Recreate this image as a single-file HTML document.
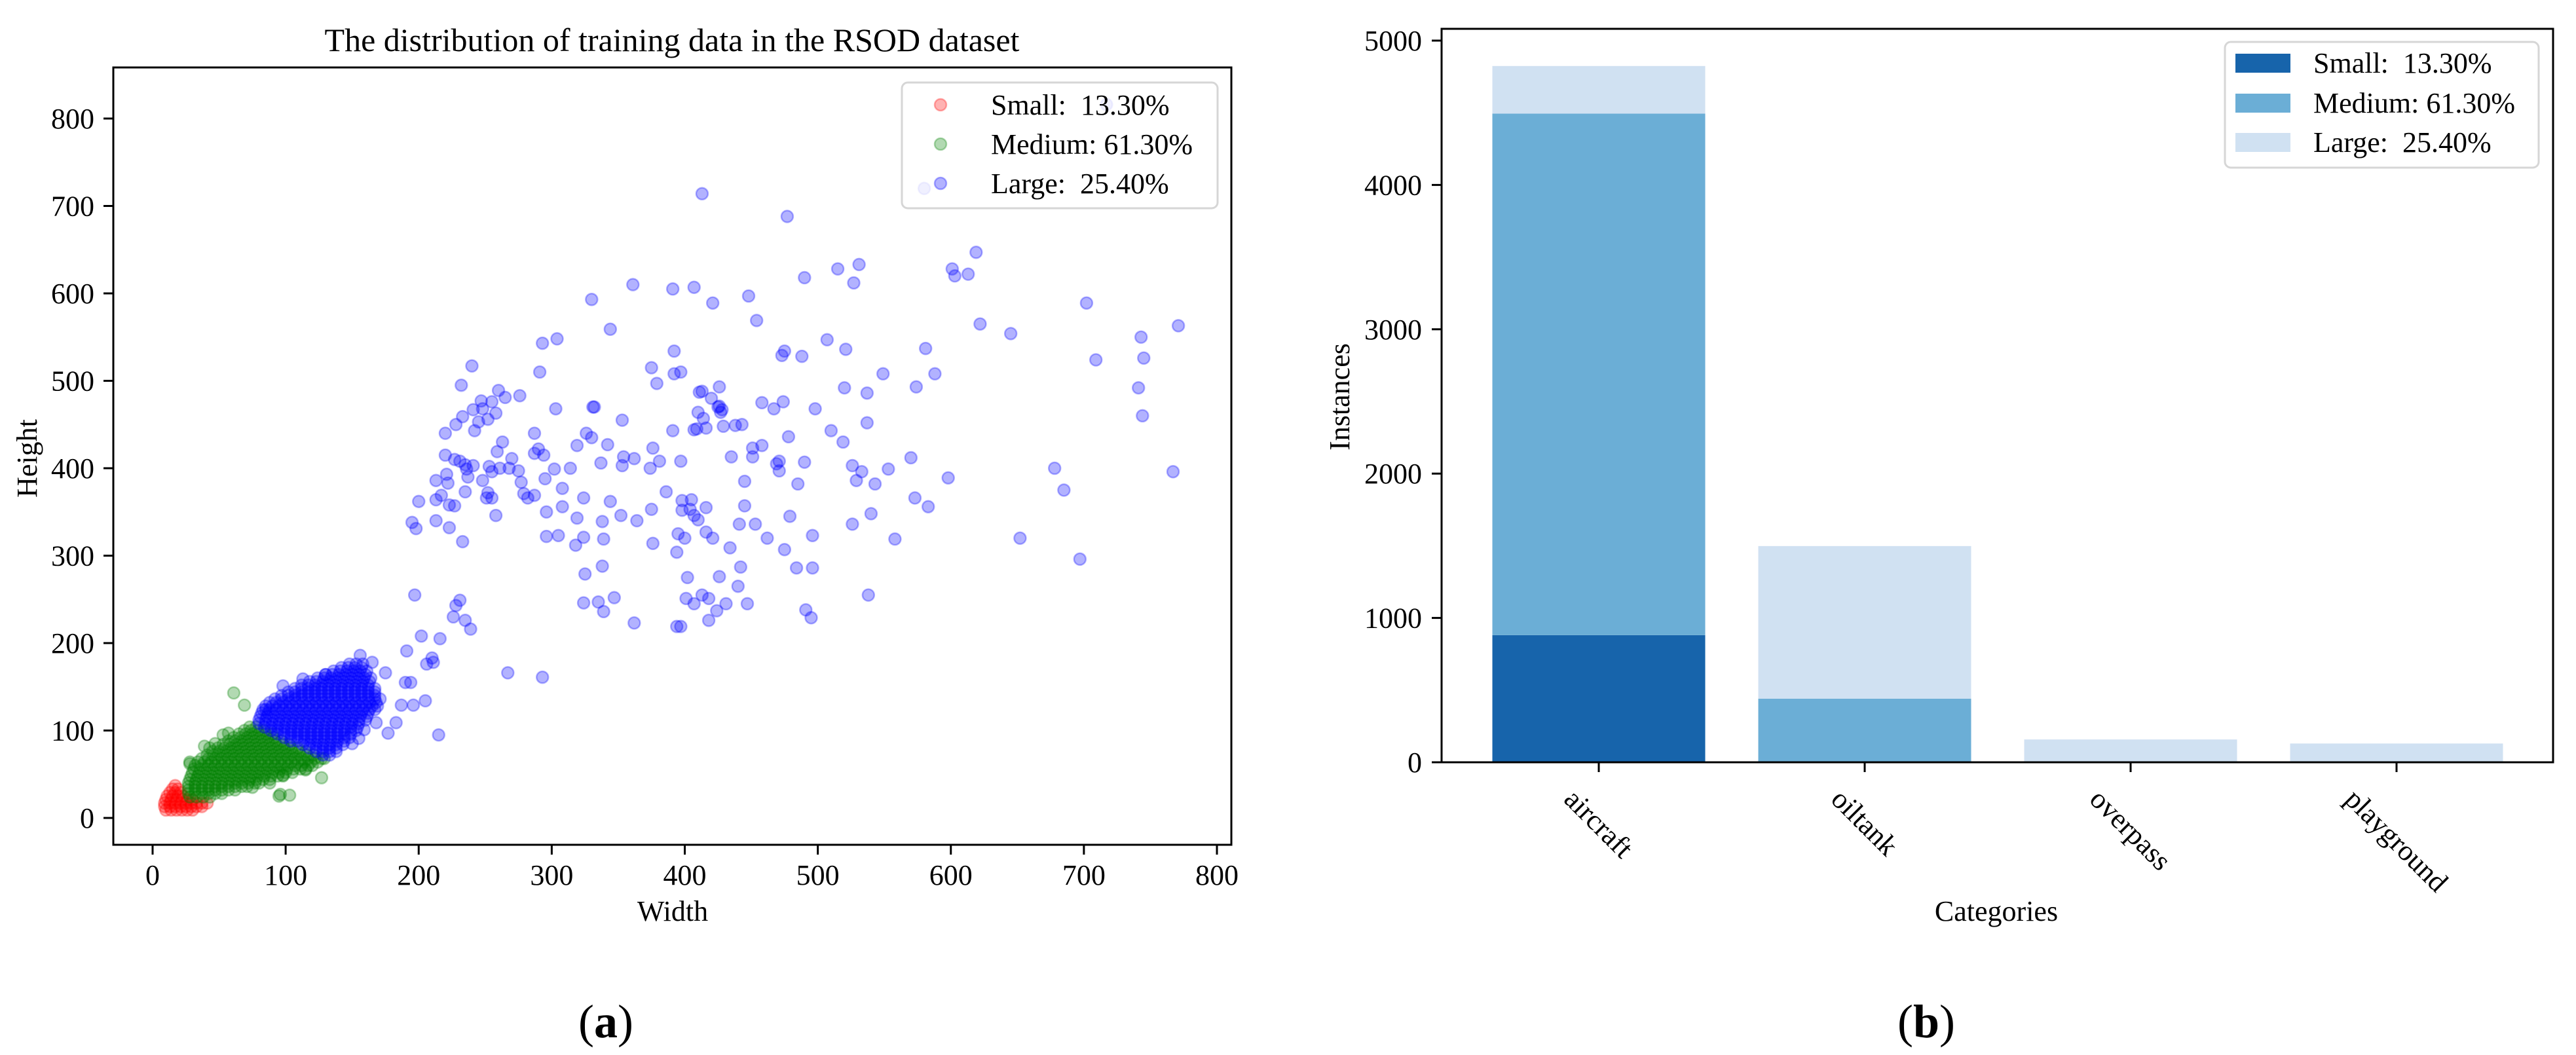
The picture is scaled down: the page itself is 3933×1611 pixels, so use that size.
<!DOCTYPE html>
<html>
<head>
<meta charset="utf-8">
<style>
  html, body { margin:0; padding:0; background:#fff; }
  svg { display:block; font-family:"Liberation Serif","Times New Roman",serif; }
</style>
</head>
<body>
<svg id="fig" width="3933" height="1611" viewBox="0 0 3933 1611" xmlns="http://www.w3.org/2000/svg">
  <rect x="0" y="0" width="3933" height="1611" fill="#fff"/>
  <defs>
    <clipPath id="clipA"><rect x="173" y="103" width="1707" height="1187"/></clipPath>
  </defs>

  <g id="panelA">
    <text x="1026" y="78" font-size="50" text-anchor="middle">The distribution of training data in the RSOD dataset</text>
    <g id="scatterPoints" clip-path="url(#clipA)"></g>
    <rect x="173" y="103" width="1707" height="1187" fill="none" stroke="#000" stroke-width="3"/>
    <g id="axA"></g>
    <text transform="translate(56,700) rotate(-90)" font-size="44" text-anchor="middle">Height</text>
    <text x="1027" y="1406" font-size="44" text-anchor="middle">Width</text>
    <g>
      <rect x="1377" y="126" width="482" height="192" rx="9" fill="#fff" fill-opacity="0.8" stroke="#d6d6d6" stroke-width="3"/>
      <circle cx="1436" cy="160" r="9" fill="rgba(255,0,0,0.3)" stroke="rgba(255,0,0,0.3)" stroke-width="2.5"/>
      <circle cx="1436" cy="220" r="9" fill="rgba(0,128,0,0.3)" stroke="rgba(0,128,0,0.3)" stroke-width="2.5"/>
      <circle cx="1436" cy="280" r="9" fill="rgba(0,0,255,0.3)" stroke="rgba(0,0,255,0.3)" stroke-width="2.5"/>
      <text x="1513" y="175" font-size="44" xml:space="preserve">Small:  13.30%</text>
      <text x="1513" y="235" font-size="44">Medium: 61.30%</text>
      <text x="1513" y="295" font-size="44" xml:space="preserve">Large:  25.40%</text>
    </g>
    <text x="925" y="1584" font-size="72" text-anchor="middle">(<tspan font-weight="bold">a</tspan>)</text>
  </g>

  <g id="panelB">
    <g id="bars"></g>
    <rect x="2201" y="44" width="1697" height="1120" fill="none" stroke="#000" stroke-width="3"/>
    <g id="axB"></g>
    <text transform="translate(2060,606) rotate(-90)" font-size="44" text-anchor="middle">Instances</text>
    <text x="3048" y="1406" font-size="44" text-anchor="middle">Categories</text>
    <g>
      <rect x="3397" y="64" width="479" height="192" rx="9" fill="#fff" fill-opacity="0.8" stroke="#d6d6d6" stroke-width="3"/>
      <rect x="3413" y="82" width="84" height="29" fill="#1764ab"/>
      <rect x="3413" y="143" width="84" height="29" fill="#6baed6"/>
      <rect x="3413" y="203" width="84" height="29" fill="#d0e1f2"/>
      <text x="3532" y="111" font-size="44" xml:space="preserve">Small:  13.30%</text>
      <text x="3532" y="172" font-size="44">Medium: 61.30%</text>
      <text x="3532" y="232" font-size="44" xml:space="preserve">Large:  25.40%</text>
    </g>
    <text x="2941" y="1584" font-size="72" text-anchor="middle">(<tspan font-weight="bold">b</tspan>)</text>
  </g>
</svg>

<script>
const xTicksA = [0, 100, 200, 300, 400, 500, 600, 700, 800];
const yTicksA = [0, 100, 200, 300, 400, 500, 600, 700, 800];

const smallRows = [
  [9, 10,14,18,22,26,30],
  [13, 9,13,17,21,25,29,33,37],
  [17, 9,13,17,21,25,29,33,37,41],
  [21, 10,14,18,22,26,30],
  [25, 11,15,19,23],
  [29, 13,17,21],
  [33, 15,19],
  [37, 17]
];

const mediumRows = [
  [24, 28,33,38,43],
  [28, 27,32,37,42,47,52],
  [32, 27,32,37,42,47,52,57,62],
  [36, 27,32,37,42,47,52,57,62,67,71],
  [40, 27,32,37,42,47,52,57,62,67,72,77,80],
  [44, 28,33,38,43,48,53,58,63,68,73,78,83,88],
  [48, 29,34,39,44,49,54,59,64,69,74,79,84,89,94,98],
  [52, 30,35,40,45,50,55,60,65,70,75,80,85,90,95,100,105],
  [56, 31,36,41,46,51,56,61,66,71,76,81,86,91,96,101,106,111,115],
  [60, 32,37,42,47,52,57,62,67,72,77,82,87,92,97,102,107,112,117],
  [64, 34,39,44,49,54,59,64,69,74,79,84,89,94,99,104,109,114,119,124],
  [68, 37,42,47,52,57,62,67,72,77,82,87,92,97,102,107,112,117,122,127],
  [72, 41,46,51,56,61,66,71,76,81,86,91,96,101,106,111,116,121],
  [76, 45,50,55,60,65,70,75,80,85,90,95,100,105,110,115],
  [80, 49,54,59,64,69,74,79,84,89,94,99,104,109],
  [84, 53,58,63,68,73,78,83,88,93,98,103],
  [88, 57,62,67,72,77,82,87,92,97],
  [92, 61,66,71,76,81,86,91],
  [96, 65,70,75,80,85,90],
  [100, 69,74,79,84],
  [104, 73,78]
];
const mediumOutX = [61,69,57,39,47,28,98,96,103,127,129,95,53,43,120,115,88,75,28];
const mediumOutY = [143,129,97,82,85,62,49,27,26,46,68,25,95,80,60,55,40,35,64];

const largeRows = [
  [72, 128,133],
  [76, 123,128,133,138],
  [80, 118,123,128,133,138],
  [84, 113,118,123,128,133,138,143],
  [88, 104,109,114,119,124,129,134,139,144],
  [92, 99,104,109,114,119,124,129,134,139,144,148],
  [96, 94,99,104,109,114,119,124,129,134,139,144,149],
  [100, 89,94,99,104,109,114,119,124,129,134,139,144,149,153],
  [104, 84,89,94,99,104,109,114,119,124,129,134,139,144,149,154],
  [108, 80,85,90,95,100,105,110,115,120,125,130,135,140,145,150,155],
  [112, 80,85,90,95,100,105,110,115,120,125,130,135,140,145,150,155,160],
  [116, 81,86,91,96,101,106,111,116,121,126,131,136,141,146,151,156,161],
  [120, 82,87,92,97,102,107,112,117,122,127,132,137,142,147,152,157,162],
  [124, 83,88,93,98,103,108,113,118,123,128,133,138,143,148,153,158,163,167],
  [128, 85,90,95,100,105,110,115,120,125,130,135,140,145,150,155,160,165,169],
  [132, 88,93,98,103,108,113,118,123,128,133,138,143,148,153,158,163,168],
  [136, 92,97,102,107,112,117,122,127,132,137,142,147,152,157,162,167,171],
  [140, 97,102,107,112,117,122,127,132,137,142,147,152,157,162,167],
  [144, 102,107,112,117,122,127,132,137,142,147,152,157,162,167],
  [148, 107,112,117,122,127,132,137,142,147,152,157,162,167],
  [152, 112,117,122,127,132,137,142,147,152,157,162],
  [156, 118,123,128,133,138,143,148,153,158,163],
  [160, 124,129,134,139,144,149,154,159,164],
  [164, 130,135,140,145,150,155,160],
  [168, 136,141,146,151,156,161],
  [172, 142,147,152,157],
  [176, 148,153,158]
];
const largeOutX = [187,177,183,168,159,155,150,196,190,175,165,156,85,98,113,130,
 413,477,531,515,527,490,601,603,613,619,622,645,702,743,745,771,709,741,744,767,678,685,652,697,
 361,391,407,421,448,454,330,344,304,392,392,375,397,413,426,426,414,409,391,332,353,379,291,293,276,258,248,232,240,265,260,287,290,303,319,314,326,330,331,337,342,344,353,354,362,376,374,381,397,386,375,376,364,352,338,339,338,325,324,324,319,318,308,308,302,295,287,296,296,305,
 335,324,339,347,362,394,397,401,407,413,418,424,431,426,421,416,410,416,405,398,395,394,402,434,441,445,442,440,447,453,462,475,484,496,496,491,495,479,485,490,471,471,478,474,467,458,498,488,473,475,507,521,520,537,549,581,574,588,537,510,519,526,533,529,543,553,570,573,583,598,526,540,558,538,
 451,445,451,435,429,416,410,425,428,420,411,407,438,427,443,458,469,407,398,404,400,418,
 247,255,252,242,245,241,233,228,220,220,227,235,241,236,231,221,222,213,213,217,223,227,200,195,198,213,223,233,235,237,248,252,251,255,258,253,255,261,259,263,270,268,275,277,279,282,287,294,
 228,231,226,235,239,197,202,216,210,211,206,205,191,194,215,267,293,580,717];
const largeOutY = [129,97,109,109,101,91,85,129,155,166,178,186,124,151,159,164,
 714,688,633,628,612,618,628,620,622,647,565,554,589,550,526,563,524,492,460,396,400,375,320,296,
 610,605,607,589,597,569,593,559,548,534,508,515,510,488,493,471,457,445,443,470,455,497,510,543,483,463,468,495,517,481,489,440,422,468,426,400,440,435,470,406,427,362,403,413,411,423,400,408,408,373,353,314,340,346,339,319,288,279,321,366,343,312,356,377,399,388,369,350,322,323,
 247,246,236,252,223,219,219,251,245,255,226,237,245,276,320,327,341,355,364,352,325,304,275,309,336,357,287,265,245,336,320,307,286,286,323,238,229,345,382,407,408,397,436,476,468,475,468,528,529,534,547,536,492,486,508,537,493,508,452,443,430,403,396,386,382,399,412,366,356,389,336,348,319,255,
 423,385,413,413,448,446,464,470,467,480,487,444,449,464,450,426,405,346,363,353,320,251,
 477,476,456,443,453,467,459,450,440,415,410,404,403,399,408,393,383,386,364,369,358,357,362,338,331,340,332,316,373,390,386,372,366,366,346,402,396,400,419,430,411,400,397,384,371,366,417,415,
 243,249,230,226,216,255,208,205,183,178,176,134,191,155,95,166,161,720,816];

const categories = ["aircraft", "oiltank", "overpass", "playground"];
const smallCounts  = [881, 0, 0, 0];
const mediumCounts = [3613, 441, 0, 0];
const largeCounts  = [330, 1057, 158, 130];
const yTicksB = [0, 1000, 2000, 3000, 4000, 5000];

const NS = "http://www.w3.org/2000/svg";
function mk(tag, attrs, parent) {
  const el = document.createElementNS(NS, tag);
  for (const k in attrs) el.setAttribute(k, attrs[k]);
  parent.appendChild(el);
  return el;
}

const xA = v => 233 + v * (1858 - 233) / 800;
const yA = v => 1249 - v * (1249 - 181) / 800;

const pts = document.getElementById("scatterPoints");
function dot(x, y, color, name) {
  const c = mk("circle", {cx: xA(x).toFixed(1), cy: yA(y).toFixed(1), r: 9,
    fill: color, "fill-opacity": 0.3, stroke: color, "stroke-opacity": 0.3, "stroke-width": 2.5}, pts);
  
  
}
smallRows.forEach(row => { for (let i = 1; i < row.length; i++) dot(row[i], row[0], "#ff0000", "point-small"); });
mediumRows.forEach(row => { for (let i = 1; i < row.length; i++) dot(row[i], row[0], "#008000", "point-medium"); });
mediumOutX.forEach((x, i) => dot(x, mediumOutY[i], "#008000", "point-medium"));
largeRows.forEach(row => { for (let i = 1; i < row.length; i++) dot(row[i], row[0], "#0000ff", "point-large"); });
largeOutX.forEach((x, i) => dot(x, largeOutY[i], "#0000ff", "point-large"));

const axA = document.getElementById("axA");
xTicksA.forEach(t => {
  const l = mk("line", {x1: xA(t), x2: xA(t), y1: 1290, y2: 1305, stroke: "#000", "stroke-width": 3}, axA);
  
  
  const tx = mk("text", {x: xA(t), y: 1351, "font-size": 44, "text-anchor": "middle"}, axA);
  tx.textContent = t;
  
  
});
yTicksA.forEach(t => {
  const l = mk("line", {x1: 158, x2: 173, y1: yA(t), y2: yA(t), stroke: "#000", "stroke-width": 3}, axA);
  
  
  const tx = mk("text", {x: 144, y: yA(t) + 15, "font-size": 44, "text-anchor": "end"}, axA);
  tx.textContent = t;
  
  
});

const xB = i => 2441 + i * 406;
const yB = v => 1164 - v * (1164 - 62) / 5000;
const barW = 325;
const barsG = document.getElementById("bars");
const seriesList = [[smallCounts, "#1764ab", "small"], [mediumCounts, "#6baed6", "medium"], [largeCounts, "#d0e1f2", "large"]];
categories.forEach((cat, i) => {
  let base = 0;
  seriesList.forEach(([arr, col, nm]) => {
    const v = arr[i];
    if (v > 0) {
      const r = mk("rect", {x: xB(i) - barW / 2, y: yB(base + v), width: barW, height: yB(base) - yB(base + v), fill: col}, barsG);
      
      
    }
    base += v;
  });
});

const axB = document.getElementById("axB");
yTicksB.forEach(t => {
  const l = mk("line", {x1: 2186, x2: 2201, y1: yB(t), y2: yB(t), stroke: "#000", "stroke-width": 3}, axB);
  
  
  const tx = mk("text", {x: 2171, y: yB(t) + 15, "font-size": 44, "text-anchor": "end"}, axB);
  tx.textContent = t;
  
  
});
categories.forEach((cat, i) => {
  const l = mk("line", {x1: xB(i), x2: xB(i), y1: 1164, y2: 1179, stroke: "#000", "stroke-width": 3}, axB);
  
  
  const tx = mk("text", {x: 0, y: 0, "font-size": 44, "text-anchor": "middle"}, axB);
  tx.textContent = cat;
  
  
  const L = tx.getComputedTextLength();
  const H = 44;
  const cy = 1197 + (L + H) * 0.3536;
  tx.setAttribute("transform", "translate(" + xB(i) + "," + cy + ") rotate(45)");
  tx.setAttribute("dy", "0.33em");
});
</script>
</body>
</html>
